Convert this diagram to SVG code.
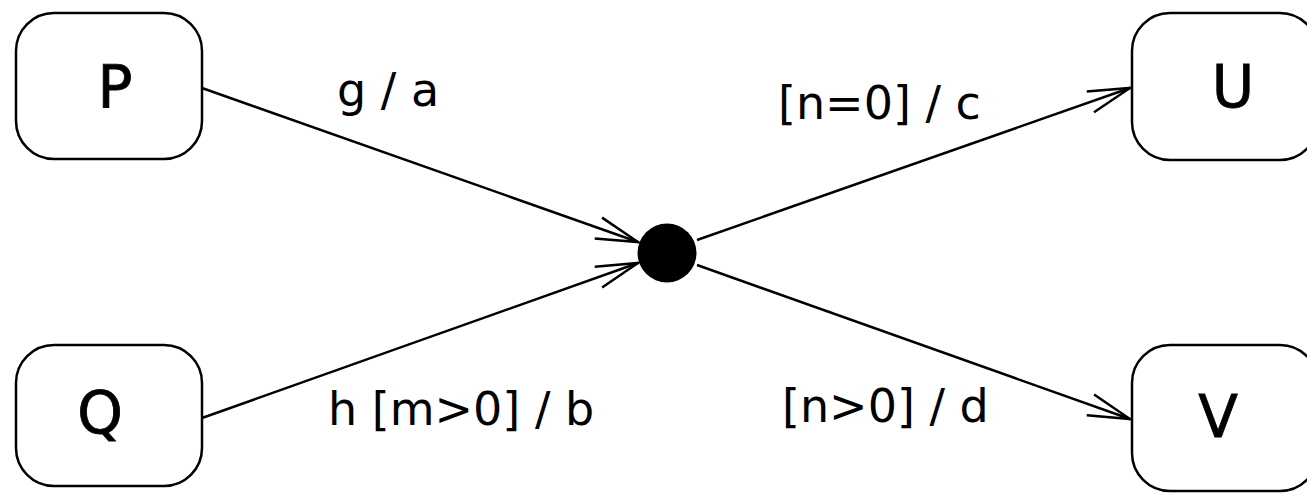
<svg xmlns="http://www.w3.org/2000/svg" width="1307" height="495" viewBox="0 0 1307 495">
<style>
.box{fill:#fff;stroke:#000;stroke-width:2.5}
.nl{font-family:"DejaVu Sans",sans-serif;font-size:58px;text-anchor:middle;fill:#000;stroke:#000;stroke-width:0.8}
.el{font-family:"DejaVu Sans",sans-serif;font-size:46px;fill:#000}
.edge{stroke:#000;stroke-width:2.5;fill:none;marker-end:url(#arr)}
</style>
<defs>
<marker id="arr" markerUnits="userSpaceOnUse" markerWidth="60" markerHeight="40" viewBox="-50 -20 60 40" refX="0" refY="0" orient="auto">
<path d="M-42,-11 L0,0 L-42,11" fill="none" stroke="#000" stroke-width="2.5"/>
</marker>
</defs>
<g id="connectors">
<line class="edge" x1="202" y1="88" x2="638" y2="242"/>
<line class="edge" x1="202" y1="418" x2="638" y2="263"/>
<line class="edge" x1="697" y1="240" x2="1130" y2="88"/>
<line class="edge" x1="697" y1="265" x2="1130" y2="419"/>
<text class="el" x="337" y="106">g / a</text>
<text class="el" x="328" y="425">h [m&gt;0] / b</text>
<text class="el" x="778" y="119">[n=0] / c</text>
<text class="el" x="782" y="422">[n&gt;0] / d</text>
</g>
<g id="P"><rect class="box" x="16" y="13" width="186" height="146" rx="38"/><text class="nl" x="115" y="107">P</text></g>
<g id="Q"><rect class="box" x="16" y="345" width="186" height="141" rx="38"/><text class="nl" x="100" y="433">Q</text></g>
<g id="U"><rect class="box" x="1132" y="13" width="186" height="147" rx="38"/><text class="nl" x="1233" y="107">U</text></g>
<g id="V"><rect class="box" x="1132" y="345" width="186" height="146" rx="38"/><text class="nl" x="1218" y="437">V</text></g>
<g id="junction"><circle cx="667" cy="253" r="29.5" fill="#000"/></g>
</svg>
